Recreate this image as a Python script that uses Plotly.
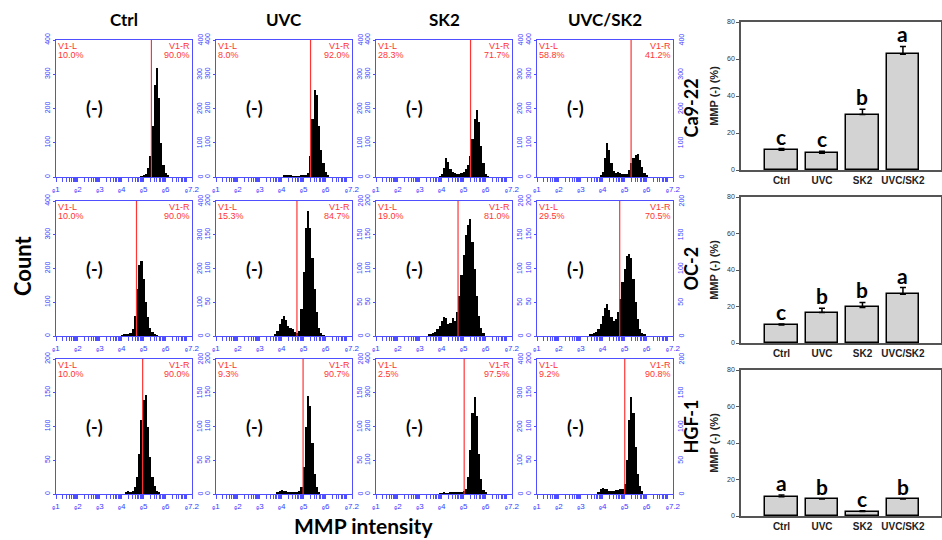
import math
import plotly.graph_objects as go

W, H = 942, 540

conditions = ["Ctrl", "UVC", "SK2", "UVC/SK2"]
cell_lines = ["Ca9-22", "OC-2", "HGF-1"]
bin_width = 0.1  # log10 units

# ---------- flow histograms: counts per 0.1-decade bin, first bin centre in *_start ----------
ca922_start = [4.9, 4.1, 3.9, 3.9]
ca922_ctrl = [2, 5, 10, 25, 60, 150, 270, 317, 230, 100, 35, 12, 3]
ca922_uvc = [4, 6, 5, 3, 2, 2, 2, 2, 3, 3, 5, 12, 60, 170, 255, 240, 150, 80, 40, 15, 4]
ca922_sk2 = [2, 8, 25, 55, 45, 22, 14, 12, 10, 10, 12, 15, 22, 35, 60, 110, 170, 195, 160, 90, 40, 10, 2]
ca922_uvcsk2 = [3, 15, 55, 98, 80, 40, 18, 12, 15, 12, 10, 8, 10, 20, 40, 55, 65, 68, 50, 30, 12, 3]

oc2_start = [4.0, 3.7, 3.4, 3.4]
oc2_ctrl = [2, 3, 4, 5, 8, 20, 60, 140, 210, 222, 170, 100, 55, 25, 12, 5, 2]
oc2_uvc = [2, 8, 18, 25, 30, 24, 15, 12, 10, 6, 5, 8, 40, 95, 160, 185, 160, 115, 70, 35, 12, 4, 1]
oc2_sk2 = [2, 3, 4, 6, 10, 15, 22, 28, 26, 18, 20, 26, 22, 35, 60, 90, 120, 150, 165, 174, 140, 100, 60, 30, 12, 4]
oc2_uvcsk2 = [2, 3, 4, 6, 10, 18, 30, 42, 47, 38, 28, 22, 25, 35, 55, 80, 100, 118, 122, 115, 85, 50, 25, 10, 4, 2]

hgf1_start = [4.2, 3.8, 3.9, 3.8]
hgf1_ctrl = [2, 4, 3, 5, 10, 25, 60, 110, 140, 146, 100, 55, 25, 12, 5, 2]
hgf1_uvc = [3, 5, 6, 5, 4, 3, 2, 2, 2, 3, 5, 10, 40, 100, 145, 130, 75, 30, 10, 3]
hgf1_sk2 = [2, 2, 3, 2, 2, 3, 3, 3, 4, 5, 6, 8, 15, 50, 130, 240, 288, 230, 120, 45, 12, 3]
hgf1_uvcsk2 = [3, 8, 9, 8, 7, 5, 4, 5, 6, 6, 7, 8, 15, 50, 110, 144, 120, 70, 30, 12, 4]

ca922_ymax = [400, 400, 400, 400]
oc2_ymax = [400, 200, 200, 200]
hgf1_ymax = [200, 200, 400, 200]

ca922_gate = [5.35, 5.31, 5.31, 5.29]
oc2_gate = [4.67, 4.69, 4.74, 4.77]
hgf1_gate = [4.95, 4.97, 5.02, 5.00]

ca922_left = ["10.0%", "8.0%", "28.3%", "58.8%"]
ca922_right = ["90.0%", "92.0%", "71.7%", "41.2%"]
oc2_left = ["10.0%", "15.3%", "19.0%", "29.5%"]
oc2_right = ["90.0%", "84.7%", "81.0%", "70.5%"]
hgf1_left = ["10.0%", "9.3%", "2.5%", "9.2%"]
hgf1_right = ["90.0%", "90.7%", "97.5%", "90.8%"]

x_tickvals = [1, 2, 3, 4, 5, 6, 7.2]
x_ticktext = ["ₑ1", "ₑ2", "ₑ3", "ₑ4", "ₑ5", "ₑ6", "ₑ7.2"]

# ---------- bar charts: MMP (-) (%) ----------
ca922_mmp = [10.7, 9.0, 30.0, 62.6]
ca922_err = [0.9, 1.1, 2.8, 4.2]
ca922_letters = ["c", "c", "b", "a"]
oc2_mmp = [9.8, 16.7, 19.5, 26.7]
oc2_err = [0.6, 2.4, 2.7, 3.7]
oc2_letters = ["c", "b", "b", "a"]
hgf1_mmp = [10.6, 9.3, 2.4, 9.3]
hgf1_err = [0.9, 0.2, 0.5, 0.2]
hgf1_letters = ["a", "b", "c", "b"]

# ---------- layout geometry (pixels) ----------
col_px = [(56, 192), (216, 352), (376, 512), (537, 673)]
row_px = [(40, 177), (201, 336), (359, 494)]
bar_x_px = (741, 941)
bar_row_px = [(22, 170), (197, 343), (370, 516)]

BLUE = "#4f4fff"
TICKBLUE = "#3a3aff"
RED = "#ff3535"
SMALL = "Liberation Sans, Arial, sans-serif"
BOLD = "Lato, Open Sans, sans-serif"

hist_rows = [
    (ca922_start, [ca922_ctrl, ca922_uvc, ca922_sk2, ca922_uvcsk2], ca922_ymax, ca922_gate, ca922_left, ca922_right),
    (oc2_start, [oc2_ctrl, oc2_uvc, oc2_sk2, oc2_uvcsk2], oc2_ymax, oc2_gate, oc2_left, oc2_right),
    (hgf1_start, [hgf1_ctrl, hgf1_uvc, hgf1_sk2, hgf1_uvcsk2], hgf1_ymax, hgf1_gate, hgf1_left, hgf1_right),
]
bar_rows = [
    (ca922_mmp, ca922_err, ca922_letters),
    (oc2_mmp, oc2_err, oc2_letters),
    (hgf1_mmp, hgf1_err, hgf1_letters),
]

minor_vals = []
for dec in range(1, 8):
    for k in range(2, 10):
        v = dec + math.log10(k)
        if v < 7.2:
            minor_vals.append(v)

fig = go.Figure()
layout = {}
shapes = []
annotations = []


def sfx(n):
    return "" if n == 1 else str(n)


def xdom(px):
    return [px[0] / W, px[1] / W]


def ydom(px):
    return [1 - px[1] / H, 1 - px[0] / H]


def corner_text(s, x, anchor, text, yshift):
    return dict(xref=f"x{s} domain", yref=f"y{s} domain", x=x, y=1.0,
                xanchor=anchor, yanchor="top", showarrow=False, yshift=yshift,
                text=text, font=dict(family=SMALL, size=9, color=RED))


for r, (starts, counts_list, ymaxes, gates, lefts, rights) in enumerate(hist_rows):
    for c in range(4):
        n = r * 4 + c + 1
        s = sfx(n)
        counts = counts_list[c]
        xs = [starts[c] + i * bin_width for i in range(len(counts))]
        fig.add_trace(go.Bar(
            x=xs, y=counts, width=bin_width, marker=dict(color="black", line=dict(width=0)),
            xaxis=f"x{s}", yaxis=f"y{s}", showlegend=False, hoverinfo="skip"))
        ymax = ymaxes[c]
        step = ymax // 4
        yt = [step * i for i in range(5)]
        layout[f"xaxis{s}"] = dict(
            domain=xdom(col_px[c]), range=[1, 7.2], anchor=f"y{s}", automargin=False,
            showline=True, mirror=True, linecolor=BLUE, linewidth=1.2,
            tickmode="array", tickvals=x_tickvals, ticktext=x_ticktext,
            ticks="outside", ticklen=4, tickcolor=BLUE, tickwidth=1,
            tickfont=dict(family=SMALL, size=8, color=TICKBLUE),
            minor=dict(tickmode="array", tickvals=minor_vals, ticks="outside",
                       ticklen=4, tickcolor=BLUE, tickwidth=1),
            showgrid=False, zeroline=False, fixedrange=True)
        layout[f"yaxis{s}"] = dict(
            domain=ydom(row_px[r]), range=[0, ymax], anchor=f"x{s}", automargin=False,
            showline=True, mirror=True, linecolor=BLUE, linewidth=1.2,
            tickmode="array", tickvals=yt, tickangle=-90,
            ticks="outside", ticklen=2, tickcolor=BLUE,
            tickfont=dict(family=SMALL, size=7, color=TICKBLUE),
            showgrid=False, zeroline=False, fixedrange=True)
        shapes.append(dict(type="line", xref=f"x{s}", yref=f"y{s} domain",
                           x0=gates[c], x1=gates[c], y0=0, y1=1,
                           line=dict(color=RED, width=1.2)))
        annotations.append(corner_text(s, 0.0, "left", "V1-L", 1))
        annotations.append(corner_text(s, 0.0, "left", lefts[c], -8))
        annotations.append(corner_text(s, 1.0, "right", "V1-R", 1))
        annotations.append(corner_text(s, 1.0, "right", rights[c], -8))
        annotations.append(dict(xref=f"x{s} domain", yref=f"y{s} domain", x=0.28, y=0.5,
                                xanchor="center", yanchor="middle", showarrow=False,
                                text="<b>(-)</b>", font=dict(family=BOLD, size=18, color="black")))
        for v in yt:
            annotations.append(dict(xref=f"x{s} domain", yref=f"y{s}", x=1.0, y=v,
                                    xanchor="left", yanchor="middle", xshift=2, showarrow=False,
                                    textangle=-90, text=str(v),
                                    font=dict(family=SMALL, size=7, color=TICKBLUE)))

for r, (vals, errs, letters) in enumerate(bar_rows):
    n = 13 + r
    s = sfx(n)
    fig.add_trace(go.Bar(
        x=[0, 1, 2, 3], y=vals, width=0.8,
        marker=dict(color="#d3d3d3", line=dict(color="black", width=1.5)),
        error_y=dict(type="data", array=errs, arrayminus=[0, 0, 0, 0], symmetric=False,
                     color="black", thickness=1.5, width=3),
        xaxis=f"x{s}", yaxis=f"y{s}", showlegend=False, hoverinfo="skip"))
    layout[f"xaxis{s}"] = dict(
        domain=xdom(bar_x_px), range=[-1.0, 3.94], anchor=f"y{s}", automargin=False,
        showline=True, mirror=True, linecolor="#555", linewidth=1.5,
        tickmode="array", tickvals=[0, 1, 2, 3], ticktext=[f"<b>{t}</b>" for t in conditions],
        ticks="", tickfont=dict(family=SMALL, size=10, color="#222"),
        showgrid=False, zeroline=False, fixedrange=True)
    layout[f"yaxis{s}"] = dict(
        domain=ydom(bar_row_px[r]), range=[0, 80], anchor=f"x{s}", automargin=False,
        showline=True, mirror=True, linecolor="#555", linewidth=1.5,
        tickmode="array", tickvals=[0, 20, 40, 60, 80],
        ticks="outside", ticklen=3, tickcolor="#555",
        tickfont=dict(family=SMALL, size=7, color="#333"),
        title=dict(text="<b>MMP (-) (%)</b>", font=dict(family=SMALL, size=11, color="#222"), standoff=6),
        showgrid=False, zeroline=False, fixedrange=True)
    for i in range(4):
        annotations.append(dict(xref=f"x{s}", yref=f"y{s}", x=i, y=vals[i] + errs[i],
                                xanchor="center", yanchor="bottom", showarrow=False, yshift=-2,
                                text=f"<b>{letters[i]}</b>", font=dict(family=BOLD, size=21, color="black")))

# column titles
for c, name in enumerate(conditions):
    annotations.append(dict(xref="paper", yref="paper", x=(col_px[c][0] + col_px[c][1]) / 2 / W,
                            y=1 - 19 / H, xanchor="center", yanchor="middle", showarrow=False,
                            text=f"<b>{name}</b>", font=dict(family=BOLD, size=17, color="black")))
# row labels
for r, name in enumerate(cell_lines):
    annotations.append(dict(xref="paper", yref="paper", x=690 / W,
                            y=1 - (row_px[r][0] + row_px[r][1]) / 2 / H,
                            xanchor="center", yanchor="middle", showarrow=False, textangle=-90,
                            text=f"<b>{name}</b>", font=dict(family=BOLD, size=18, color="black")))
annotations.append(dict(xref="paper", yref="paper", x=22 / W, y=1 - 266 / H, xanchor="center",
                        yanchor="middle", showarrow=False, textangle=-90, text="<b>Count</b>",
                        font=dict(family=BOLD, size=22, color="black")))
annotations.append(dict(xref="paper", yref="paper", x=363 / W, y=0, xanchor="center",
                        yanchor="bottom", yshift=1, borderpad=0, showarrow=False,
                        text="<b>MMP intensity</b>",
                        font=dict(family=BOLD, size=21, color="black")))

fig.update_layout(
    template="none",
    width=W, height=H, margin=dict(l=0, r=0, t=0, b=0, autoexpand=False),
    paper_bgcolor="white", plot_bgcolor="white",
    shapes=shapes, annotations=annotations, bargap=0,
    **layout)

fig.write_html("out.html", config={"displayModeBar": False},
               post_script="document.body.style.margin='0px';document.body.style.padding='0px';")
